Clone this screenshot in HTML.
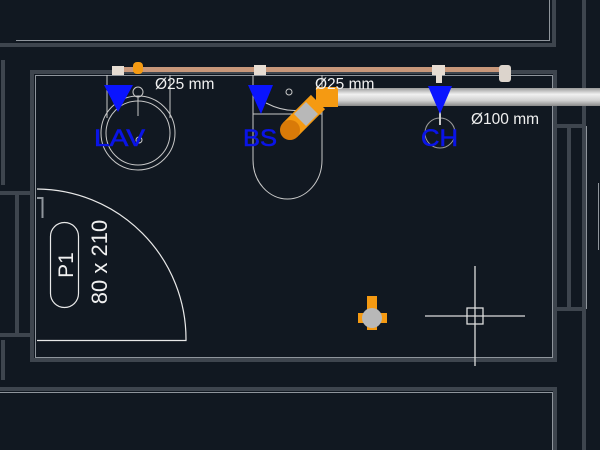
<!DOCTYPE html>
<html><head><meta charset="utf-8"><style>
html,body{margin:0;padding:0;background:#111821;}
svg{display:block;}
text{font-family:"Liberation Sans",sans-serif;}
</style></head><body>
<svg width="600" height="450" viewBox="0 0 600 450" xmlns="http://www.w3.org/2000/svg">
<defs>
<linearGradient id="pg" x1="0" y1="0" x2="0" y2="1">
<stop offset="0" stop-color="#9a9a9a"/><stop offset="0.35" stop-color="#f0f0f0"/><stop offset="0.7" stop-color="#d0d0d0"/><stop offset="1" stop-color="#8a8a8a"/>
</linearGradient>
</defs>
<rect width="600" height="450" fill="#111821"/>
<g fill="none" stroke="#3e454e" stroke-width="4">
<path d="M0 45 H554 V0"/>
<path d="M584 0 V450"/>
<rect x="32" y="72" width="523" height="288"/>
<path d="M0 389 H555 V450"/>
<path d="M0 193 H33 M0 335 H33 M17 193 V335"/>
<path d="M3 60 V185 M3 340 V380"/>
<path d="M556 126 H584 M556 309 H584 M569 126 V309"/>
</g>
<g fill="none" stroke="#8f959c" stroke-width="1">
<path d="M16 40.5 H549.5 V0"/>
<rect x="35.5" y="75.5" width="517" height="282"/>
<path d="M0 392.5 H552.5 V450"/>
<path d="M586.5 126 V309"/>
<path d="M598.5 183 V250"/>
</g>
<g fill="none" stroke="#e8e8e8" stroke-width="1.2">
<path d="M37 189 A150 150 0 0 1 186 339 V340.5 H37"/>
<rect x="50.5" y="222.5" width="28" height="85" rx="14"/>
</g>
<path d="M37 198 H42.5 V218" fill="none" stroke="#8f959c" stroke-width="2"/>
<text transform="translate(73,265) rotate(-90)" text-anchor="middle" font-size="21" fill="#f0f0f0">P1</text>
<text transform="translate(107,262) rotate(-90)" text-anchor="middle" font-size="22" fill="#f0f0f0">80 x 210</text>
<g fill="none" stroke="#c8c8c8" stroke-width="1">
<path d="M107 75 V118 M170 75 V118"/>
<circle cx="138" cy="133" r="37"/>
<circle cx="138" cy="133" r="32"/>
<circle cx="138" cy="92" r="5"/>
<path d="M138 97 V116"/>
<circle cx="139" cy="140" r="3"/>
</g>
<g fill="none" stroke="#c8c8c8" stroke-width="1">
<path d="M253 75 V160 A34.5 39 0 0 0 322 160 V75"/>
<path d="M253 114 H322"/>
<path d="M266 103 Q295 118 322 103"/>
<circle cx="289" cy="92" r="3"/>
</g>
<circle cx="440" cy="133" r="15" fill="none" stroke="#9a9a9a" stroke-width="1"/>
<path d="M440 100 V125" stroke="#c8c8c8" stroke-width="2"/>
<rect x="335" y="88" width="265" height="18" fill="url(#pg)"/>
<rect x="118" y="67" width="388" height="5" fill="#c8977a"/>
<rect x="133" y="62" width="10" height="12" rx="4" fill="#f59a12"/>
<rect x="112" y="66" width="12" height="9" fill="#e6dcd2"/>
<rect x="254" y="65" width="12" height="10" fill="#e6dcd2"/>
<rect x="432" y="65" width="13" height="10" fill="#e6dcd2"/>
<rect x="436" y="75" width="6" height="8" fill="#e6dcd2"/>
<rect x="499" y="65" width="12" height="17" rx="3" fill="#dcd4cc"/>
<path d="M290 130 L318 102" stroke="#f59a12" stroke-width="20" stroke-linecap="butt"/>
<path d="M300 120 L312 108" stroke="#b8b8b8" stroke-width="17"/>
<rect x="316" y="87" width="22" height="20" fill="#f59a12"/>
<circle cx="290" cy="130" r="10" fill="#d97a08"/>
<g fill="#0a14ff">
<path d="M104 85 H133 L118 112 Z"/>
<path d="M248 85 H273 L261 114 Z"/>
<path d="M428 86 H452 L440 114 Z"/>
</g>
<g font-size="24" fill="#0a14e6" stroke="#0a14e6" stroke-width="0.6">
<text x="94" y="146" textLength="51" lengthAdjust="spacingAndGlyphs">LAV</text>
<text x="243" y="146" textLength="34" lengthAdjust="spacingAndGlyphs">BS</text>
<text x="421" y="146" textLength="37" lengthAdjust="spacingAndGlyphs">CH</text>
</g>
<g font-size="15.5" fill="#f0f0f0">
<text x="155" y="89">Ø25 mm</text>
<text x="315" y="89">Ø25 mm</text>
<text x="471" y="124">Ø100 mm</text>
</g>
<rect x="367" y="296" width="10" height="34" fill="#f59a12"/>
<rect x="358" y="313" width="29" height="10" fill="#f59a12"/>
<circle cx="372" cy="318" r="10" fill="#b8b8b8"/>
<g stroke="#dcdcdc" stroke-width="1.3" fill="none">
<path d="M425 316 H525 M475 266 V366"/>
<rect x="467" y="308" width="16" height="16"/>
</g>
</svg>
</body></html>
